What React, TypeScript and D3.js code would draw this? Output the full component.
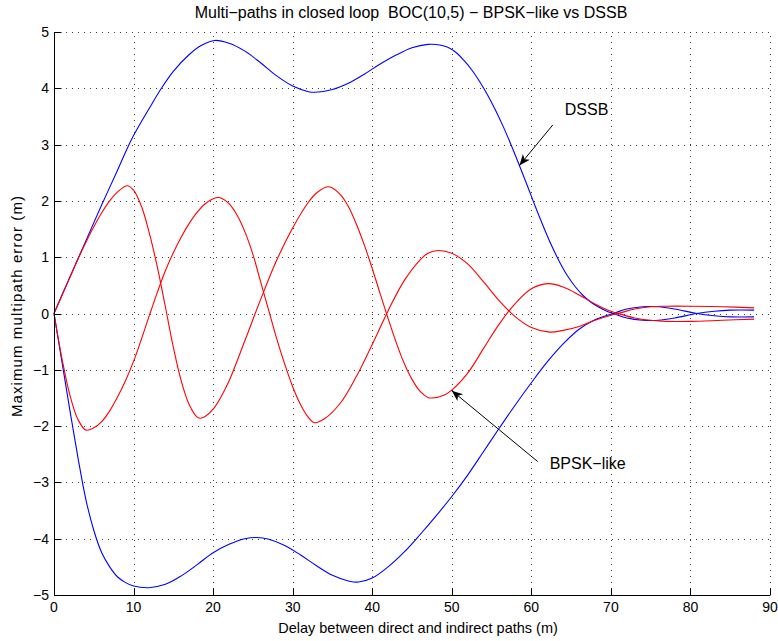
import React from "react";
import * as d3 from "d3";

// Delay (m) vs maximum multipath error (m), closed loop, BOC(10,5)
const dssbUpper: [number, number][] = [
  [0, 0], [2, 0.65], [4, 1.29], [6, 1.93], [8, 2.55], [9.1, 2.9], [10, 3.16], [12, 3.65],
  [13.5, 4.0], [15, 4.3], [17, 4.6], [18.5, 4.76], [20.2, 4.85], [22, 4.8], [24, 4.66],
  [26, 4.45], [28, 4.22], [30, 4.04], [32, 3.94], [32.8, 3.93], [35, 3.98], [37, 4.09],
  [39, 4.25], [41, 4.43], [43, 4.59], [45, 4.72], [47, 4.78], [48.5, 4.77], [49.5, 4.73],
  [50.5, 4.64], [51.5, 4.5], [52.5, 4.33], [53.5, 4.12], [54.5, 3.88], [55.5, 3.61],
  [56.5, 3.31], [57.5, 2.98], [58.5, 2.63], [59.5, 2.27], [60.5, 1.9], [61.5, 1.55],
  [62.5, 1.22], [63.5, 0.93], [64.5, 0.68], [65.5, 0.48], [66.5, 0.32], [67.5, 0.2],
  [68.5, 0.11], [69.5, 0.04], [70.5, -0.01], [72, -0.08], [74, -0.12], [76, -0.12],
  [78, -0.08], [80.8, 0], [83, 0.04], [85, 0.06], [88, 0.06],
];

const dssbLower: [number, number][] = [
  [0, 0], [1, -0.86], [2, -1.72], [3, -2.55], [4, -3.3], [5, -3.85], [6, -4.25], [7, -4.5],
  [8, -4.68], [9, -4.78], [10, -4.84], [11.9, -4.87], [14, -4.81], [16, -4.66], [18, -4.46],
  [20, -4.25], [22, -4.1], [24, -4.0], [25.5, -3.98], [27, -4.01], [29, -4.12], [31, -4.29],
  [33, -4.48], [35, -4.65], [37, -4.75], [38.3, -4.77], [40, -4.7], [42, -4.5], [44, -4.24],
  [46, -3.93], [48, -3.6], [50, -3.25], [52, -2.87], [54, -2.45], [56, -2.03], [58, -1.62],
  [60, -1.23], [62, -0.86], [64, -0.54], [66, -0.28], [68, -0.11], [70.3, 0], [72, 0.08],
  [74, 0.12], [76, 0.12], [78, 0.08], [80.8, 0], [83, -0.04], [85, -0.06], [88, -0.06],
];

const bpskA: [number, number][] = [
  [0, 0], [1, 0.32], [2, 0.64], [3, 0.96], [4, 1.26], [5, 1.54], [6, 1.79], [7, 2.0],
  [8, 2.16], [9.2, 2.27], [10, 2.19], [11, 1.9], [12, 1.42], [13, 0.82], [14, 0.12],
  [15, -0.6], [16, -1.2], [17, -1.62], [18, -1.84], [18.4, -1.86], [19, -1.83], [20, -1.7],
  [21, -1.48], [22, -1.2], [24, -0.48], [26, 0.26], [28, 0.95], [30, 1.52], [32, 1.98],
  [33, 2.14], [34.4, 2.25], [35, 2.23], [36, 2.11], [37, 1.9], [38, 1.59], [39, 1.22],
  [40, 0.8], [41, 0.35], [42, -0.09], [43, -0.51], [44, -0.88], [45, -1.17], [46, -1.38],
  [47, -1.49], [47.5, -1.5], [49, -1.45], [50, -1.36], [52, -1.06], [54, -0.62],
  [56, -0.18], [58, 0.18], [60, 0.44], [62.1, 0.53], [64, 0.47], [66, 0.33], [68, 0.17],
  [70, 0.04], [71.4, -0.02], [73, -0.08], [75, -0.12], [77, -0.14], [80, -0.14],
  [84, -0.12], [88, -0.1],
];

const bpskB: [number, number][] = [
  [0, 0], [1, -0.8], [2, -1.45], [3, -1.88], [4, -2.07], [5, -2.03], [6, -1.92], [7, -1.73],
  [8, -1.48], [9, -1.19], [10, -0.85], [11, -0.45], [12, -0.03], [13, 0.38], [14, 0.76],
  [15, 1.08], [16, 1.36], [17, 1.6], [18, 1.8], [19, 1.95], [20, 2.04], [20.7, 2.06],
  [21, 2.05], [22, 1.95], [23, 1.75], [24, 1.45], [25, 1.05], [26, 0.55], [27, 0.05],
  [28, -0.45], [29, -0.9], [30, -1.3], [31, -1.62], [32, -1.85], [32.7, -1.94], [34, -1.87],
  [36, -1.59], [38, -1.12], [40, -0.55], [41, -0.25], [42, 0.05], [44, 0.58], [46, 0.95],
  [47, 1.07], [48.3, 1.12], [50, 1.07], [52, 0.88], [54, 0.56], [56, 0.22], [58, -0.06],
  [60, -0.25], [62.3, -0.33], [64, -0.3], [66, -0.23], [68, -0.12], [70, -0.03],
  [71.4, 0.02], [73, 0.08], [75, 0.12], [77, 0.13], [80, 0.13], [84, 0.12], [88, 0.1],
];

const xTicks = [0, 10, 20, 30, 40, 50, 60, 70, 80, 90];
const yTicks = [-5, -4, -3, -2, -1, 0, 1, 2, 3, 4, 5];

// Annotation anchors in data units: text position, arrow tail, arrow tip
const annotations = [
  { label: "DSSB", text: [64.2, 3.52], tail: [62.7, 3.35], tip: [58.5, 2.63] },
  { label: "BPSK\u2212like", text: [62.3, -2.77], tail: [60.8, -2.63], tip: [50, -1.37] },
];

const W = 778;
const H = 641;
const M = { left: 54, right: 8, top: 32, bottom: 46 };
const FONT = "'Liberation Sans', Arial, Helvetica, sans-serif";

const fmt = (v: number) => (v < 0 ? "\u2212" + Math.abs(v) : String(v));

export default function App() {
  const x = d3.scaleLinear().domain([0, 90]).range([M.left, W - M.right]);
  const y = d3.scaleLinear().domain([-5, 5]).range([H - M.bottom, M.top]);

  const line = d3
    .line<[number, number]>()
    .x((d) => x(d[0]))
    .y((d) => y(d[1]))
    .curve(d3.curveCatmullRom.alpha(0.5));

  const series = [
    { data: dssbUpper, color: "#0000ff" },
    { data: dssbLower, color: "#0000ff" },
    { data: bpskA, color: "#ff0000" },
    { data: bpskB, color: "#ff0000" },
  ];

  const px = (v: number) => Math.round(v) + 0.5;
  const x0 = M.left;
  const x1 = W - M.right;
  const y0 = H - M.bottom;
  const y1 = M.top;

  const arrowHead = (tail: number[], tip: number[]) => {
    const tx = x(tip[0]);
    const ty = y(tip[1]);
    const ang = Math.atan2(ty - y(tail[1]), tx - x(tail[0]));
    const len = 11;
    const half = 4.5;
    const notch = 8;
    const ux = Math.cos(ang);
    const uy = Math.sin(ang);
    const bx = tx - ux * len;
    const by = ty - uy * len;
    const nx = tx - ux * notch;
    const ny = ty - uy * notch;
    const pts = [
      [tx, ty],
      [bx - uy * half, by + ux * half],
      [nx, ny],
      [bx + uy * half, by - ux * half],
    ];
    return pts.map((p) => p.join(",")).join(" ");
  };

  return (
    <svg
      width={W}
      height={H}
      style={{ position: "absolute", left: 0, top: 0, background: "#fff" }}
      fontFamily={FONT}
    >
      <rect x={0} y={0} width={W} height={H} fill="#fff" />
      {/* grid */}
      <g stroke="#000" strokeWidth={1} strokeDasharray="1,5" opacity={0.75}>
        {xTicks.map((t) => (
          <line key={"gx" + t} x1={px(x(t))} x2={px(x(t))} y1={y0} y2={y1} />
        ))}
        {yTicks.map((t) => (
          <line key={"gy" + t} x1={x0} x2={x1} y1={px(y(t))} y2={px(y(t))} />
        ))}
      </g>
      {/* curves */}
      <g fill="none" strokeWidth={1.1}>
        {series.map((s, i) => (
          <path key={i} d={line(s.data) ?? ""} stroke={s.color} />
        ))}
      </g>
      {/* axes */}
      <g stroke="#000" strokeWidth={1}>
        <line x1={px(x0)} x2={px(x0)} y1={y1} y2={px(y0)} />
        <line x1={px(x0)} x2={x1} y1={px(y0)} y2={px(y0)} />
        {xTicks.map((t) => (
          <line key={"tx" + t} x1={px(x(t))} x2={px(x(t))} y1={px(y0)} y2={px(y0) - 7} />
        ))}
        {yTicks.map((t) => (
          <line key={"ty" + t} x1={px(x0)} x2={px(x0) + 7} y1={px(y(t))} y2={px(y(t))} />
        ))}
      </g>
      <g fontSize={14} fill="#000">
        {xTicks.map((t) => (
          <text key={"lx" + t} x={x(t)} y={y0 + 17} textAnchor="middle">
            {fmt(t)}
          </text>
        ))}
        {yTicks.map((t) => (
          <text key={"ly" + t} x={x0 - 5} y={y(t) + 5} textAnchor="end">
            {fmt(t)}
          </text>
        ))}
      </g>
      <text x={(x0 + x1) / 2 + 6} y={633} fontSize={14.5} textAnchor="middle">
        Delay between direct and indirect paths (m)
      </text>
      <text
        transform={`translate(22,306) rotate(-90)`}
        fontSize={15}
        letterSpacing={1.1}
        textAnchor="middle"
      >
        Maximum multipath error (m)
      </text>
      <text
        x={411}
        y={18}
        fontSize={16}
        textAnchor="middle"
        style={{ whiteSpace: "pre" }}
      >
        {"Multi\u2212paths in closed loop  BOC(10,5) \u2212 BPSK\u2212like vs DSSB"}
      </text>
      {/* annotations */}
      {annotations.map((a) => (
        <g key={a.label}>
          <line
            x1={x(a.tail[0])}
            y1={y(a.tail[1])}
            x2={x(a.tip[0])}
            y2={y(a.tip[1])}
            stroke="#000"
            strokeWidth={1}
          />
          <polygon points={arrowHead(a.tail, a.tip)} fill="#000" />
          <text x={x(a.text[0])} y={y(a.text[1])} fontSize={16}>
            {a.label}
          </text>
        </g>
      ))}
    </svg>
  );
}
